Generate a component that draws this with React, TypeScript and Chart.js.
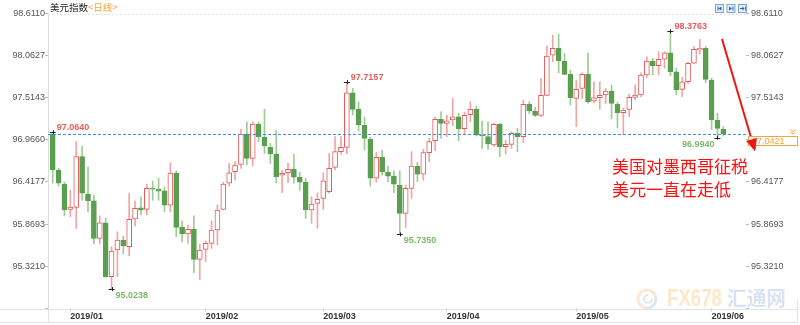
import React, { useEffect, useRef } from "react";
import { Chart, registerables } from "chart.js";

Chart.register(...registerables);

// ---- data (daily candles, US Dollar Index) ----
const opens = [
  97.041, 96.573, 96.39, 96.059, 96.087, 96.746, 96.26, 96.173, 95.684, 95.887,
  95.184, 95.532, 95.662, 95.575, 95.935, 96.082, 96.061, 96.334, 96.325, 96.303,
  96.117, 96.533, 95.827, 95.74, 95.805, 95.411, 95.541, 95.619, 95.792, 96.061,
  96.4, 96.55, 96.647, 97.041, 96.725, 97.171, 96.998, 96.868, 96.781, 96.504,
  96.537, 96.582, 96.478, 96.416, 96.052, 96.139, 96.204, 96.29, 96.608, 96.811,
  96.868, 97.578, 97.362, 97.154, 96.972, 96.465, 96.738, 96.543, 96.494, 96.377,
  96.009, 96.334, 96.625, 96.52, 96.798, 96.954, 97.232, 97.18, 97.223, 97.266,
  97.11, 97.292, 97.362, 97.028, 97.006, 96.898, 97.167, 96.876, 96.907, 97.05,
  97.006, 97.427, 97.336, 97.284, 97.544, 98.065, 98.156, 97.991, 97.817, 97.505,
  97.635, 97.817, 97.47, 97.513, 97.548, 97.6, 97.427, 97.318, 97.362, 97.518,
  97.548, 97.808, 97.991, 97.929, 98.013, 98.098, 97.851, 97.622, 97.721, 97.961,
  98.134, 98.156, 97.743, 97.223, 97.106,
];
const highs = [
  97.064, 96.599, 96.416, 96.312, 96.941, 96.885, 96.615, 96.247, 95.978, 95.944,
  95.575, 95.77, 95.714, 96.269, 96.169, 96.225, 96.39, 96.429, 96.468, 96.355,
  96.667, 96.563, 95.913, 95.857, 95.978, 95.606, 95.653, 95.913, 96.117, 96.413,
  96.66, 96.68, 97.102, 97.201, 97.201, 97.197, 97.362, 96.92, 97.084, 96.573,
  96.66, 96.781, 96.546, 96.465, 96.225, 96.277, 96.537, 96.79, 97.006, 97.006,
  97.7157, 97.635, 97.461, 97.262, 96.998, 96.798, 96.833, 96.625, 96.563, 96.563,
  96.377, 96.811, 96.673, 96.842, 96.985, 97.262, 97.331, 97.288, 97.505, 97.31,
  97.327, 97.461, 97.405, 97.21, 97.201, 97.18, 97.18, 96.963, 97.071, 97.115,
  97.483, 97.461, 97.392, 97.765, 98.186, 98.329, 98.342, 98.091, 97.873, 97.743,
  97.838, 98.098, 97.721, 97.721, 97.635, 97.678, 97.457, 97.379, 97.561, 97.678,
  97.838, 98.046, 98.026, 98.111, 98.111, 98.3763, 97.899, 97.778, 97.977, 98.177,
  98.273, 98.177, 97.769, 97.314, 97.136,
];
const lows = [
  96.4, 96.364, 95.974, 95.965, 95.814, 96.182, 96.03, 95.61, 95.61, 95.177,
  95.0238, 95.184, 95.48, 95.454, 95.844, 95.987, 95.987, 96.182, 96.182, 96.03,
  96.03, 95.705, 95.64, 95.619, 95.236, 95.151, 95.38, 95.554, 95.597, 96.052,
  96.364, 96.442, 96.595, 96.638, 96.625, 96.941, 96.79, 96.66, 96.407, 96.277,
  96.407, 96.4, 96.312, 95.944, 95.879, 95.814, 96.061, 96.273, 96.573, 96.777,
  96.781, 97.288, 97.084, 96.833, 96.364, 96.416, 96.507, 96.42, 96.277, 95.735,
  95.822, 96.204, 96.42, 96.442, 96.68, 96.824, 96.985, 97.006, 97.145, 96.954,
  97.028, 97.201, 97.015, 96.855, 96.842, 96.876, 96.746, 96.781, 96.855, 96.811,
  96.928, 97.31, 97.266, 97.266, 97.535, 97.981, 97.838, 97.808, 97.418, 97.136,
  97.505, 97.44, 97.448, 97.362, 97.44, 97.236, 97.119, 97.028, 97.266, 97.483,
  97.526, 97.778, 97.808, 97.808, 97.896, 97.795, 97.548, 97.526, 97.7, 97.951,
  98.082, 97.708, 97.102, 96.994, 97.015,
];
const closes = [
  96.573, 96.4, 96.052, 96.091, 96.746, 96.273, 96.173, 95.684, 95.887, 95.184,
  95.519, 95.662, 95.584, 95.931, 96.074, 96.052, 96.334, 96.325, 96.299, 96.117,
  96.533, 95.827, 95.74, 95.801, 95.411, 95.532, 95.619, 95.792, 96.052, 96.39,
  96.537, 96.638, 97.041, 96.725, 97.171, 97.006, 96.885, 96.781, 96.485, 96.53,
  96.582, 96.478, 96.416, 96.052, 96.13, 96.191, 96.433, 96.595, 96.811, 96.868,
  97.578, 97.362, 97.158, 96.985, 96.465, 96.738, 96.55, 96.494, 96.39, 96.009,
  96.334, 96.625, 96.52, 96.798, 96.941, 97.232, 97.18, 97.214, 97.266, 97.11,
  97.284, 97.362, 97.028, 97.015, 96.911, 97.167, 96.876, 96.907, 97.05, 97.006,
  97.427, 97.344, 97.284, 97.544, 98.056, 98.156, 97.994, 97.817, 97.513, 97.622,
  97.817, 97.461, 97.513, 97.544, 97.6, 97.44, 97.318, 97.353, 97.518, 97.548,
  97.808, 97.991, 97.929, 98.013, 98.098, 97.851, 97.613, 97.721, 97.961, 98.143,
  98.156, 97.752, 97.223, 97.115, 97.0421,
];

const monthLabels = ["2019/01", "2019/02", "2019/03", "2019/04", "2019/05", "2019/06"];
const monthStartIndex = [3, 26, 46, 67, 89, 112];

const yTickValues = [94.7727, 95.321, 95.8693, 96.4177, 96.966, 97.5143, 98.0627, 98.611];
const yTickLabels = ["", "95.3210", "95.8693", "96.4177", "96.9660", "97.5143", "98.0627", "98.6110"];

const extremeIndex = [0, 10, 50, 59, 105, 113];
const extremeKind = ["high", "low", "high", "low", "high", "low"];

const titleText = "美元指数";
const periodText = "<日线>";
const noteLines = ["美国对墨西哥征税", "美元一直在走低"];
const brandText = "FX678";
const brandCnText = "汇通网";

// ---- styles ----
const FONT = "'Liberation Sans', Arial, sans-serif";
const CJK = "'Noto Sans CJK SC', sans-serif";
const RED = "#e45a5a";
const GREEN = "#5a9e50";
const RED_WICK = "#f0a5a5";
const GREEN_WICK = "#9fcb95";
const ORANGE = "#f4a43a";

export default function App() {
  const ref = useRef<HTMLCanvasElement>(null);

  useEffect(() => {
    const canvas = ref.current;
    if (!canvas) return;
    const idx = closes.map((_, i) => i);
    const up = idx.map((i) => closes[i] >= opens[i]);

    const overlay = {
      id: "overlay",
      beforeDatasetsDraw(chart: any) {
        const ctx = chart.ctx as CanvasRenderingContext2D;
        ctx.save();
        // watermark logo
        ctx.lineWidth = 3;
        ctx.strokeStyle = "rgba(245,165,60,0.25)";
        ctx.beginPath();
        ctx.arc(647, 299, 9, Math.PI * 0.6, Math.PI * 1.9);
        ctx.stroke();
        ctx.strokeStyle = "rgba(120,140,170,0.22)";
        ctx.beginPath();
        ctx.arc(647, 299, 9, Math.PI * 1.9, Math.PI * 2.6);
        ctx.stroke();
        ctx.lineWidth = 2;
        ctx.beginPath();
        ctx.arc(648, 299, 4, 0, Math.PI * 1.5);
        ctx.stroke();
        ctx.textBaseline = "middle";
        ctx.textAlign = "left";
        ctx.fillStyle = "rgba(247,170,60,0.28)";
        ctx.font = `bold 24px ${FONT}`;
        ctx.fillText(brandText, 667, 299, 55);
        ctx.fillStyle = "rgba(80,125,200,0.22)";
        ctx.font = `bold 20px ${CJK}`;
        ctx.fillText(brandCnText, 727, 298, 59);
        ctx.restore();
      },
      afterDatasetsDraw(chart: any) {
        const ctx = chart.ctx as CanvasRenderingContext2D;
        const { chartArea } = chart;
        const xs = chart.scales.x;
        const ys = chart.scales.y;
        ctx.save();

        // top dashed border
        ctx.strokeStyle = "#e4e4e4";
        ctx.lineWidth = 1;
        ctx.setLineDash([2, 2]);
        ctx.beginPath();
        ctx.moveTo(chartArea.left, Math.round(chartArea.top) + 1.5);
        ctx.lineTo(chartArea.right, Math.round(chartArea.top) + 1.5);
        ctx.stroke();

        // last price line
        const last = closes[closes.length - 1];
        const py = ys.getPixelForValue(last);
        ctx.strokeStyle = "#3d8fe8";
        ctx.setLineDash([3, 2]);
        ctx.beginPath();
        ctx.moveTo(chartArea.left, Math.round(py) + 0.5);
        ctx.lineTo(chartArea.right, Math.round(py) + 0.5);
        ctx.stroke();
        ctx.setLineDash([]);

        // extreme markers
        ctx.font = `bold 9px ${FONT}`;
        extremeIndex.forEach((i, k) => {
          const isHigh = extremeKind[k] === "high";
          const v = isHigh ? highs[i] : lows[i];
          const x = xs.getPixelForValue(i);
          const y = ys.getPixelForValue(v);
          ctx.strokeStyle = "#222";
          ctx.lineWidth = 1;
          ctx.beginPath();
          ctx.moveTo(x - 3, Math.round(y) + 0.5);
          ctx.lineTo(x + 3, Math.round(y) + 0.5);
          ctx.moveTo(Math.round(x) + 0.5, y - 2);
          ctx.lineTo(Math.round(x) + 0.5, y + 2);
          ctx.stroke();
          ctx.fillStyle = isHigh ? "#e45d5d" : "#7dba6c";
          ctx.textBaseline = "middle";
          const nearRight = x > chartArea.right - 60;
          ctx.textAlign = nearRight ? "right" : "left";
          const tx = nearRight ? x - 3 : x + 4;
          const ty = isHigh ? y - 4.5 : y + 6.5;
          ctx.fillText(v.toFixed(4), tx, ty);
        });

        // red arrow
        const ax0 = 722, ay0 = 39, ax1 = 755, ay1 = 151;
        const ang = Math.atan2(ay1 - ay0, ax1 - ax0);
        const hl = 12, hw = 5.5;
        const bx = ax1 - hl * Math.cos(ang), by = ay1 - hl * Math.sin(ang);
        ctx.strokeStyle = "#f01515";
        ctx.fillStyle = "#f01515";
        ctx.lineWidth = 2;
        ctx.beginPath();
        ctx.moveTo(ax0, ay0);
        ctx.lineTo(bx, by);
        ctx.stroke();
        ctx.beginPath();
        ctx.moveTo(ax1, ay1);
        ctx.lineTo(bx + hw * Math.sin(ang), by - hw * Math.cos(ang));
        ctx.lineTo(bx - hw * Math.sin(ang), by + hw * Math.cos(ang));
        ctx.closePath();
        ctx.fill();

        // note text
        ctx.fillStyle = "#ff1010";
        ctx.font = `17px ${CJK}`;
        ctx.textAlign = "left";
        ctx.textBaseline = "middle";
        ctx.fillText(noteLines[0], 612, 167);
        ctx.fillText(noteLines[1], 612, 190);

        // title
        ctx.font = `9.5px ${CJK}`;
        ctx.fillStyle = "#222";
        ctx.fillText(titleText, 50, 7);
        const tw = ctx.measureText(titleText).width;
        ctx.fillStyle = ORANGE;
        ctx.fillText(periodText, 50 + tw, 7);

        // top-right tool icons
        [715, 726.5, 738].forEach((ix, k) => {
          ctx.fillStyle = "#e4eefa";
          ctx.strokeStyle = "#7ea6d6";
          ctx.lineWidth = 1;
          ctx.fillRect(ix + 0.5, 4.5, 8, 8);
          ctx.strokeRect(ix + 0.5, 4.5, 8, 8);
          ctx.fillStyle = "#2f5f9e";
          ctx.beginPath();
          if (k === 0) {
            ctx.fillRect(ix + 2.5, 6.5, 1, 4);
            ctx.moveTo(ix + 3.5, 8.5); ctx.lineTo(ix + 6.5, 6.5); ctx.lineTo(ix + 6.5, 10.5);
          } else if (k === 1) {
            ctx.moveTo(ix + 2.5, 6.5); ctx.lineTo(ix + 5.5, 8.5); ctx.lineTo(ix + 2.5, 10.5);
            ctx.fillRect(ix + 6, 6.5, 1, 4);
          } else {
            ctx.fillRect(ix + 2, 8, 3, 1);
            ctx.moveTo(ix + 4.5, 6.5); ctx.lineTo(ix + 6.5, 8.5); ctx.lineTo(ix + 4.5, 10.5);
            ctx.fillRect(ix + 7, 6.5, 0.8, 4);
          }
          ctx.closePath();
          ctx.fill();
        });

        // last price box on right axis
        ctx.fillStyle = "#ffffff";
        ctx.fillRect(748.5, 136.5, 49, 9);
        ctx.strokeStyle = ORANGE;
        ctx.lineWidth = 1;
        ctx.strokeRect(748.5, 136.5, 49, 9);
        ctx.fillStyle = ORANGE;
        ctx.font = `9px ${FONT}`;
        ctx.textAlign = "left";
        ctx.fillText(last.toFixed(4), 752, 141.5);
        // small chevrons
        ctx.strokeStyle = ORANGE;
        ctx.beginPath();
        ctx.moveTo(790.5, 129.5); ctx.lineTo(793, 131.5); ctx.lineTo(795.5, 129.5);
        ctx.moveTo(790.5, 132); ctx.lineTo(793, 134); ctx.lineTo(795.5, 132);
        ctx.stroke();
        // redraw arrow head on top of the box
        ctx.fillStyle = "#f01515";
        ctx.beginPath();
        ctx.moveTo(ax1, ay1);
        ctx.lineTo(bx + hw * Math.sin(ang), by - hw * Math.cos(ang));
        ctx.lineTo(bx - hw * Math.sin(ang), by + hw * Math.cos(ang));
        ctx.closePath();
        ctx.fill();

        // bottom strip frame
        ctx.strokeStyle = "#e3e3e3";
        ctx.beginPath();
        ctx.moveTo(0, 309.5); ctx.lineTo(798, 309.5);
        ctx.moveTo(0, 322.5); ctx.lineTo(798, 322.5);
        ctx.moveTo(48.5, 309); ctx.lineTo(48.5, 323);
        ctx.moveTo(797.5, 300); ctx.lineTo(797.5, 323);
        ctx.stroke();

        ctx.restore();
      },
    };

    const yCommon = {
      type: "linear" as const,
      min: yTickValues[0],
      max: yTickValues[yTickValues.length - 1],
      afterBuildTicks: (s: any) => {
        s.ticks = yTickValues.map((v) => ({ value: v }));
      },
      grid: { drawOnChartArea: false, drawTicks: true, tickLength: 3, color: "#bdbdbd" },
    };

    const chart = new Chart(canvas, {
      type: "bar",
      data: {
        datasets: [
          {
            label: "wick",
            data: idx.map((i) => ({ x: i, y: [lows[i], highs[i]] })) as any,
            backgroundColor: idx.map((i) => (up[i] ? RED_WICK : GREEN_WICK)),
            borderWidth: 0,
            barThickness: 1,
            grouped: false,
            order: 2,
          } as any,
          {
            label: "body",
            data: idx.map((i) => ({ x: i, y: [opens[i], closes[i]] })) as any,
            backgroundColor: idx.map((i) => (up[i] ? "#ffffff" : GREEN)),
            borderColor: idx.map((i) => (up[i] ? RED : GREEN)),
            borderWidth: 1,
            borderSkipped: false,
            barThickness: 5,
            grouped: false,
            order: 1,
          } as any,
        ],
      },
      options: {
        responsive: false,
        animation: false,
        devicePixelRatio: 1,
        layout: { padding: { top: 13.3, left: 0, right: 0, bottom: 0 } },
        plugins: {
          legend: { display: false },
          tooltip: { enabled: false },
          title: { display: false },
        },
        scales: {
          x: {
            type: "linear",
            min: -0.8,
            max: 117.85,
            offset: false,
            afterBuildTicks: (s: any) => {
              s.ticks = monthStartIndex.map((v) => ({ value: v }));
            },
            afterFit: (s: any) => {
              s.height = 16.6;
            },
            grid: { offset: false, drawOnChartArea: false, drawTicks: true, tickLength: 3, color: "#c8c8c8" },
            border: { display: false },
            ticks: {
              align: "start",
              padding: 0,
              autoSkip: false,
              maxRotation: 0,
              color: "#333",
              font: { family: FONT, size: 9, weight: "bold" },
              callback: (_v: any, i: number) => monthLabels[i],
            },
          },
          y: {
            ...yCommon,
            position: "left",
            afterFit: (s: any) => {
              s.width = 48;
            },
            border: { display: true, color: "#dcdcdc", dash: [2, 2] },
            ticks: {
              padding: 0,
              color: "#555",
              font: { family: FONT, size: 9 },
              callback: (_v: any, i: number) => yTickLabels[i],
            },
          },
          y2: {
            ...yCommon,
            position: "right",
            afterFit: (s: any) => {
              s.width = 54;
            },
            border: { display: false },
            ticks: {
              padding: 2,
              color: "#555",
              font: { family: FONT, size: 9 },
              callback: (_v: any, i: number) => yTickLabels[i],
            },
          },
        },
      } as any,
      plugins: [overlay],
    });

    return () => chart.destroy();
  }, []);

  return (
    <div style={{ position: "absolute", left: 0, top: 0, width: 800, height: 325, background: "#fff" }}>
      <canvas ref={ref} width={800} height={325} style={{ display: "block" }} />
    </div>
  );
}
